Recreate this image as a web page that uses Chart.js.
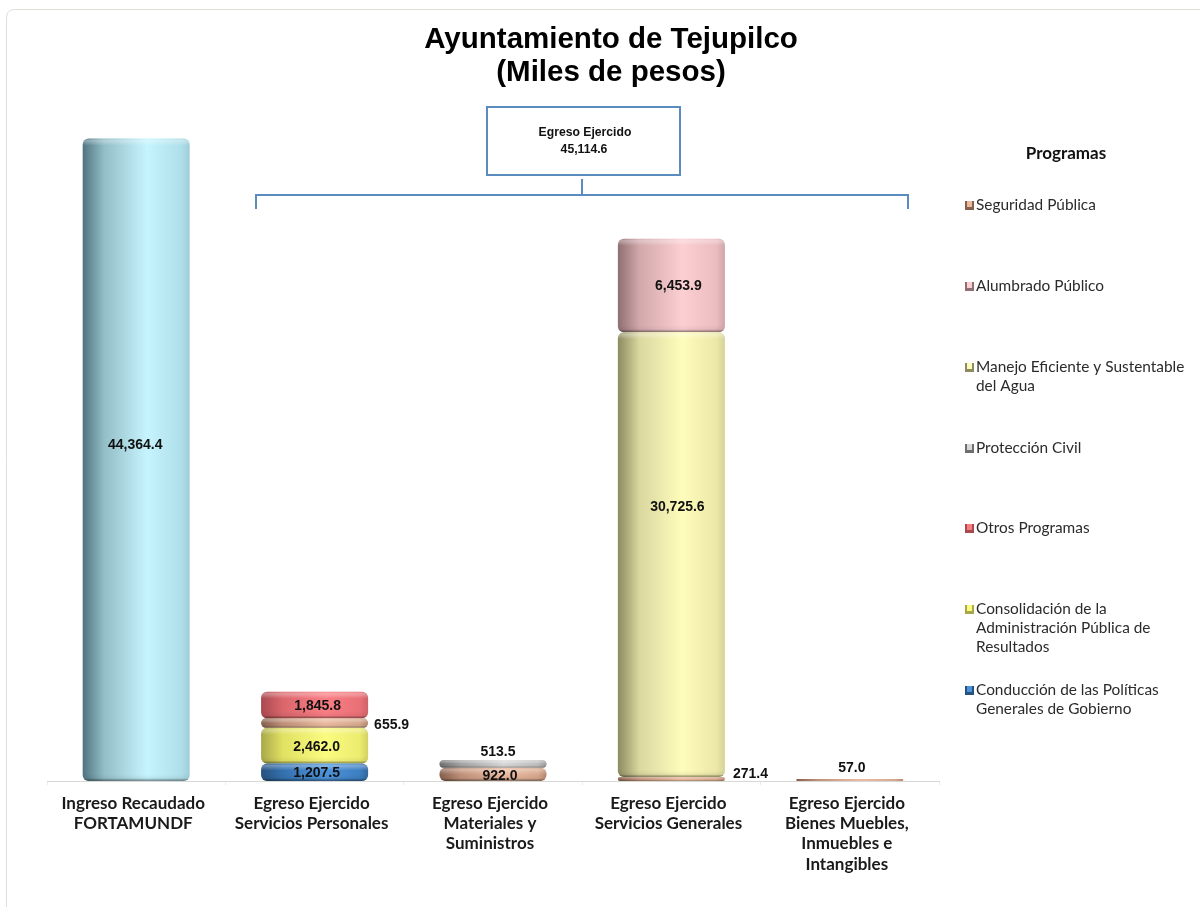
<!DOCTYPE html>
<html lang="es">
<head>
<meta charset="utf-8">
<title>Ayuntamiento de Tejupilco</title>
<script src="https://cdn.jsdelivr.net/npm/chart.js@4"></script>
<style>
html,body{margin:0;padding:0;background:#fff;overflow:hidden}
#wrap{width:1200px;height:907px;position:relative}
canvas{display:block}
</style>
</head>
<body>
<div id="wrap"><canvas id="c" width="1200" height="907"></canvas></div>
<script>
const titleLines = ['Ayuntamiento de Tejupilco', '(Miles de pesos)'];
const categories = [
  ['Ingreso Recaudado', 'FORTAMUNDF'],
  ['Egreso Ejercido', 'Servicios Personales'],
  ['Egreso Ejercido', 'Materiales y', 'Suministros'],
  ['Egreso Ejercido', 'Servicios Generales'],
  ['Egreso Ejercido', 'Bienes Muebles,', 'Inmuebles e', 'Intangibles']
];
const ingreso        = [44364.4, null, null, null, null];
const conduccion     = [null, 1207.5, null, null, null];
const consolidacion  = [null, 2462.0, null, null, null];
const seguridad      = [null, 655.9, 922.0, 271.4, 57.0];
const otros          = [null, 1845.8, null, null, null];
const proteccion     = [null, null, 513.5, null, null];
const manejo         = [null, null, null, 30725.6, null];
const alumbrado      = [null, null, null, 6453.9, null];
const calloutLines   = ['Egreso Ejercido', '45,114.6'];
const legendTitle    = 'Programas';
const legendOrder = [
  {name: 'Seguridad Pública', lines: ['Seguridad Pública']},
  {name: 'Alumbrado Público', lines: ['Alumbrado Público']},
  {name: 'Manejo Eficiente y Sustentable del Agua', lines: ['Manejo Eficiente y Sustentable', 'del Agua']},
  {name: 'Protección Civil', lines: ['Protección Civil']},
  {name: 'Otros Programas', lines: ['Otros Programas']},
  {name: 'Consolidación de la Administración Pública de Resultados', lines: ['Consolidación de la', 'Administración Pública de', 'Resultados']},
  {name: 'Conducción de las Políticas Generales de Gobierno', lines: ['Conducción de las Políticas', 'Generales de Gobierno']}
];
/* label placement for thin segments and hand-placed labels, keyed by value */
const outsideLabels = {655.9: 'right', 271.4: 'right', 513.5: 'top', 57.0: 'top'};
const labelNudge = {44364.4: [-1, -16], 30725.6: [6, -48], 6453.9: [7, 0], 655.9: [-2, 1], 922.0: [7, 1], 57.0: [2, -1], 513.5: [5, 2], 1845.8: [3, 0], 2462.0: [2, 0], 1207.5: [2, 0]};

const AX_LEFT = 47, AX_RIGHT = 939, AX_BOTTOM = 781, BAR = 0.6;

function shade(stops) {
  return function (ctx) {
    const step = (AX_RIGHT - AX_LEFT) / categories.length;
    const w = step * BAR;
    const idx = Number.isFinite(ctx.dataIndex) ? ctx.dataIndex : 0;
    const cx = AX_LEFT + (idx + 0.5) * step;
    const g = ctx.chart.ctx.createLinearGradient(cx - w / 2, 0, cx + w / 2, 0);
    g.addColorStop(0, stops[0]);
    g.addColorStop(0.2, stops[1]);
    g.addColorStop(0.6, stops[2]);
    g.addColorStop(0.92, stops[3]);
    g.addColorStop(1, stops[4]);
    return g;
  };
}
const palette = {
  ingreso:    ['#4f7480', '#93bdc7', '#c6f4fe', '#afdfe9', '#9fcdd8'],
  conduccion: ['#27527e', '#3470ae', '#4c93dc', '#3d7fc2', '#32689f'],
  consol:     ['#a8a84a', '#e0e062', '#fbfb80', '#ecec70', '#d2d260'],
  seguridad:  ['#85604c', '#c0917a', '#ebbba0', '#d6a88d', '#b68a72'],
  otros:      ['#a84a50', '#da666c', '#f97e84', '#ea7077', '#cf6268'],
  proteccion: ['#6e6e6e', '#a2a2a2', '#d8d8d8', '#bebebe', '#9a9a9a'],
  manejo:     ['#8c8a60', '#dad7a0', '#fffdbb', '#ece8a8', '#d6d39a'],
  alumbrado:  ['#8f6f71', '#d2a8ab', '#fccfd2', '#ebbcc0', '#cfa5a8']
};
function ds(label, data, key) {
  return {label, data, stack: 's', backgroundColor: shade(palette[key]), swatch: palette[key],
          borderWidth: 0, borderRadius: 6, borderSkipped: false, minBarLength: 2};
}
const datasets = [
  ds('Ingreso Recaudado', ingreso, 'ingreso'),
  ds('Conducción de las Políticas Generales de Gobierno', conduccion, 'conduccion'),
  ds('Consolidación de la Administración Pública de Resultados', consolidacion, 'consol'),
  ds('Seguridad Pública', seguridad, 'seguridad'),
  ds('Otros Programas', otros, 'otros'),
  ds('Protección Civil', proteccion, 'proteccion'),
  ds('Manejo Eficiente y Sustentable del Agua', manejo, 'manejo'),
  ds('Alumbrado Público', alumbrado, 'alumbrado')
];
const fmt = v => v.toLocaleString('en-US', {minimumFractionDigits: 1, maximumFractionDigits: 1});

const decor = {
  id: 'decor',
  beforeDraw(chart) {
    const c = chart.ctx;
    c.save();
    c.fillStyle = '#fff';
    c.fillRect(0, 0, 1200, 907);
    c.strokeStyle = '#dfdfd9';
    c.lineWidth = 1;
    c.beginPath();
    c.moveTo(6.5, 907);
    c.lineTo(6.5, 18);
    c.quadraticCurveTo(6.5, 9.5, 15, 9.5);
    c.lineTo(1200, 9.5);
    c.stroke();
    /* title */
    c.fillStyle = '#000';
    c.font = 'bold 29.5px "Liberation Sans"';
    c.textAlign = 'center';
    c.textBaseline = 'middle';
    c.fillText(titleLines[0], 611, 40);
    c.fillText(titleLines[1], 611, 73);
    /* callout */
    c.strokeStyle = '#5b8cc0';
    c.lineWidth = 2;
    c.fillStyle = '#fff';
    c.fillRect(487, 107, 193, 68);
    c.strokeRect(487, 107, 193, 68);
    c.beginPath();
    c.moveTo(256, 209); c.lineTo(256, 195); c.lineTo(908, 195); c.lineTo(908, 209);
    c.moveTo(582, 179); c.lineTo(582, 195);
    c.stroke();
    c.fillStyle = '#111';
    c.font = 'bold 12.2px "Liberation Sans"';
    c.fillText(calloutLines[0], 585, 133);
    c.fillText(calloutLines[1], 584, 150);
    /* legend */
    c.textAlign = 'center';
    c.font = 'bold 17px Lato';
    c.fillText(legendTitle, 1066, 154);
    c.textAlign = 'left';
    c.font = '15.4px Lato';
    const rowY = [205, 286, 367, 448, 528, 609, 690];
    legendOrder.forEach((it, i) => {
      const d = chart.data.datasets.find(s => s.label === it.name);
      const y = rowY[i], st = d.swatch;
      c.fillStyle = st[0];
      c.fillRect(965, y - 4, 9, 9);
      c.fillStyle = st[2];
      c.fillRect(967, y - 4, 5, 6);
      c.fillStyle = '#2b2b2b';
      it.lines.forEach((ln, k) => c.fillText(ln, 976, y + k * 19));
    });
    c.restore();
  },
  beforeDatasetsDraw(chart) {
    /* every segment is a separate rounded disc, not just the stack ends */
    chart.data.datasets.forEach((d, i) => {
      chart.getDatasetMeta(i).data.forEach(el => { el.enableBorderRadius = true; el.borderSkipped = false; });
    });
  },
  afterDatasetsDraw(chart) {
    const c = chart.ctx;
    c.save();
    chart.data.datasets.forEach((d, i) => {
      chart.getDatasetMeta(i).data.forEach((el, j) => {
        const v = d.data[j];
        if (v === null) return;
        const x0 = el.x - el.width / 2, y0 = Math.min(el.y, el.base), h = Math.abs(el.base - el.y);
        const lip = Math.min(7, h / 2);
        /* bevel */
        if (h > 3) {
          c.save();
          c.beginPath();
          c.roundRect(x0, y0, el.width, h, Math.min(6, h / 2));
          c.clip();
          let g = c.createLinearGradient(0, y0, 0, y0 + lip);
          g.addColorStop(0, 'rgba(255,255,255,0.08)');
          g.addColorStop(0.3, 'rgba(255,255,255,0.32)');
          g.addColorStop(1, 'rgba(255,255,255,0)');
          c.fillStyle = g;
          c.fillRect(x0, y0, el.width, lip);
          g = c.createLinearGradient(0, y0 + h - lip, 0, y0 + h);
          g.addColorStop(0, 'rgba(0,0,0,0)');
          g.addColorStop(0.6, 'rgba(0,0,0,0.05)');
          g.addColorStop(0.8, 'rgba(0,0,0,0.28)');
          g.addColorStop(1, 'rgba(0,0,0,0.42)');
          c.fillStyle = g;
          c.fillRect(x0, y0 + h - lip, el.width, lip);
          c.restore();
        }
        /* value */
        const place = outsideLabels[v];
        const nudge = labelNudge[v] || [0, 0];
        let tx = el.x, ty = y0 + h / 2 + 1, align = 'center';
        if (place === 'right') { tx = el.x + el.width / 2 + 8; align = 'left'; ty = Math.min(ty, AX_BOTTOM - 7); }
        if (place === 'top') { ty = y0 - 10; }
        c.font = 'bold 14px "Liberation Sans"';
        c.textAlign = align;
        c.textBaseline = 'middle';
        c.fillStyle = '#111';
        c.fillText(fmt(v), tx + nudge[0], ty + nudge[1]);
      });
    });
    c.restore();
  }
};

new Chart(document.getElementById('c'), {
  type: 'bar',
  data: {labels: categories, datasets},
  plugins: [decor],
  options: {
    responsive: false,
    animation: false,
    devicePixelRatio: 1,
    layout: {padding: {left: AX_LEFT, right: 1200 - AX_RIGHT, top: 57, bottom: 0}},
    datasets: {bar: {categoryPercentage: 1, barPercentage: BAR}},
    plugins: {legend: {display: false}, title: {display: false}, tooltip: {enabled: false}},
    scales: {
      x: {
        stacked: true,
        grid: {display: true, drawOnChartArea: false, drawTicks: true, tickLength: 4, color: '#ececec'},
        border: {display: true, color: '#d8d8d4', width: 1},
        ticks: {font: {family: 'Lato', weight: 'bold', size: 17, lineHeight: 1.2}, color: '#1a1a1a', maxRotation: 0, autoSkip: false, padding: 8, labelOffset: -3},
        afterFit(s) { s.height = 907 - AX_BOTTOM; }
      },
      y: {stacked: true, display: false, min: 0, max: 50000}
    }
  }
});
</script>
</body>
</html>
